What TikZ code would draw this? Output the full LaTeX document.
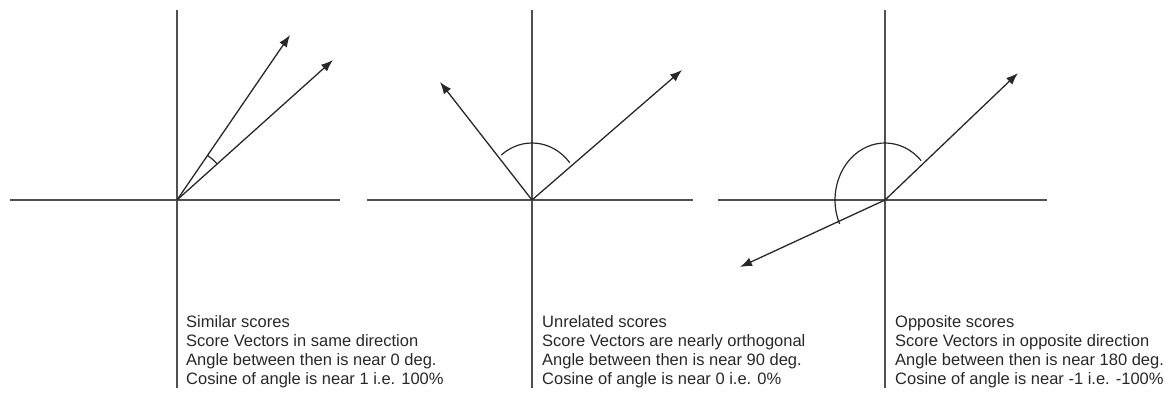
\documentclass[tikz,border=0pt]{standalone}
\usepackage{fontspec}
\setmainfont{Liberation Sans}
\usetikzlibrary{arrows.meta}
\usetikzlibrary{calc}
\definecolor{figEje}{RGB}{80,80,80}
\definecolor{figVector}{RGB}{40,40,40}
\tikzset{
  eje/.style={line width=1.3pt, draw=figEje},
  flecha/.style={-{Latex[length=12pt,width=9pt]}, line width=1.3pt, draw=figVector},
  arco/.style={line width=1.2pt, draw=figVector},
  nota/.style={
    anchor=north west, inner sep=0pt, align=left,
    font=\fontsize{16.5}{19}\selectfont, text=figVector
  }
}

\begin{document}
\begin{tikzpicture}[x=1pt, y=1pt]
  \useasboundingbox (0,0) rectangle (1172,394);

  % similar scores
  \coordinate (o1) at (177,194);
  \coordinate (o1n) at (177,384);
  \coordinate (o1s) at (177,6);
  \coordinate (o1w) at (10,194);
  \coordinate (o1e) at (340,194);
  \coordinate (v1a) at (290,359);
  \coordinate (v1b) at (333,334);
  \draw[eje] (o1n) -- (o1s);
  \draw[eje] (o1w) -- (o1e);
  \draw[flecha] (o1) -- (v1a);
  \draw[flecha] (o1) -- (v1b);
  \draw[arco] ($(o1)+(41.9:54)$) arc[start angle=41.9, end angle=55.6, radius=54];
  \node[nota] (nota1) at (186,79) {Similar scores\\Score Vectors in same direction\\Angle between then is near 0 deg.\\Cosine of angle is near 1 i.e. 100\%};

  % unrelated scores
  \coordinate (o2) at (532,194);
  \coordinate (o2n) at (532,384);
  \coordinate (o2s) at (532,6);
  \coordinate (o2w) at (367,194);
  \coordinate (o2e) at (693,194);
  \coordinate (v2a) at (440,312);
  \coordinate (v2b) at (682,324);
  \draw[eje] (o2n) -- (o2s);
  \draw[eje] (o2w) -- (o2e);
  \draw[flecha] (o2) -- (v2a);
  \draw[flecha] (o2) -- (v2b);
  \draw[arco] ($(o2)+(41:50 and 57)$) arc[start angle=41, end angle=128, x radius=50, y radius=57];
  \node[nota] (nota2) at (542,79) {Unrelated scores\\Score Vectors are nearly orthogonal\\Angle between then is near 90 deg.\\Cosine of angle is near 0 i.e. 0\%};

  % opposite scores
  \coordinate (o3) at (885,194);
  \coordinate (o3n) at (885,384);
  \coordinate (o3s) at (885,6);
  \coordinate (o3w) at (718,194);
  \coordinate (o3e) at (1047,194);
  \coordinate (v3a) at (1018,321);
  \coordinate (v3b) at (740,127);
  \draw[eje] (o3n) -- (o3s);
  \draw[eje] (o3w) -- (o3e);
  \draw[flecha] (o3) -- (v3a);
  \draw[flecha] (o3) -- (v3b);
  \draw[arco] ($(o3)+(43.7:50 and 57)$) arc[start angle=43.7, end angle=204.8, x radius=50, y radius=57];
  \node[nota] (nota3) at (895,79) {Opposite scores\\Score Vectors in opposite direction\\Angle between then is near 180 deg.\\Cosine of angle is near -1 i.e. -100\%};
\end{tikzpicture}
\end{document}
